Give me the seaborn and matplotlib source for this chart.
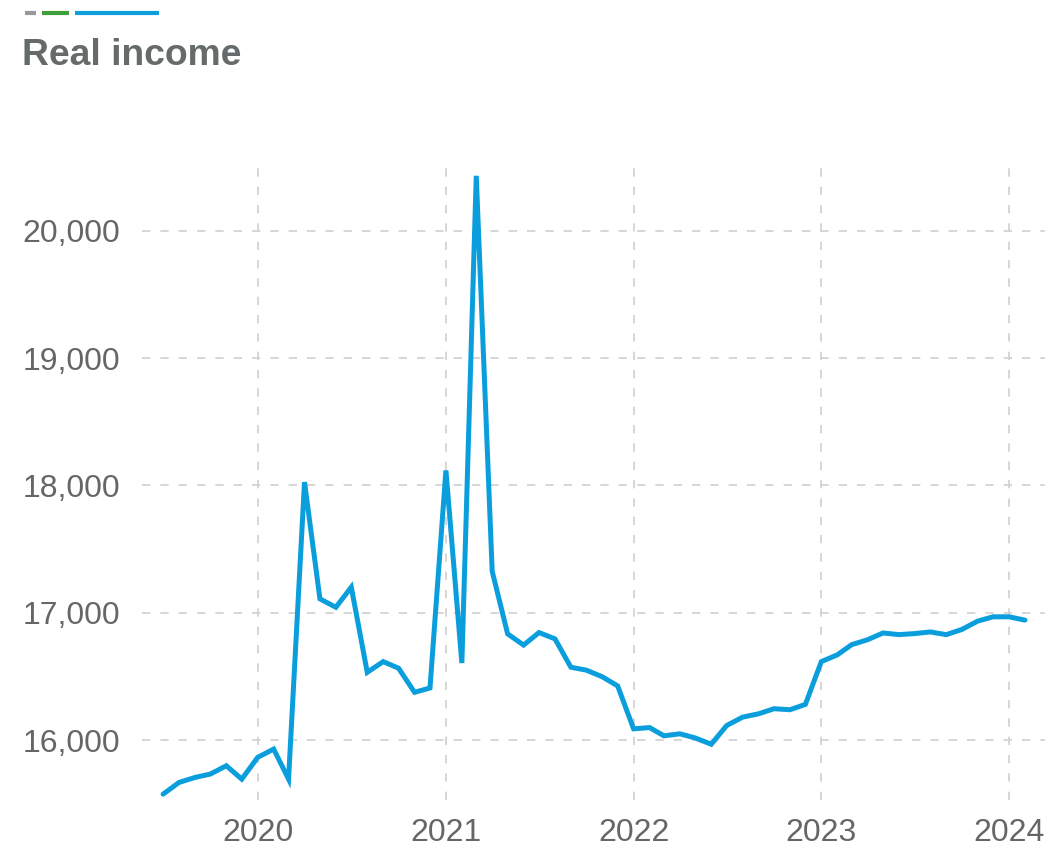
import matplotlib
matplotlib.use("Agg")
import matplotlib.pyplot as plt
import matplotlib.dates as mdates
from matplotlib.lines import Line2D
from matplotlib.ticker import FuncFormatter
import numpy as np
import pandas as pd
import seaborn as sns

# ---- data ----
start_month = "2019-07-01"
real_income = [
    15575, 15667, 15706, 15733, 15798, 15693,                                  # 2019 Jul-Dec
    15864, 15929, 15693, 18026, 17109, 17043, 17201, 16532, 16616, 16564, 16375, 16409,  # 2020
    18118, 16605, 20432, 17325, 16834, 16746, 16844, 16795, 16572, 16549, 16497, 16425,  # 2021
    16088, 16098, 16033, 16049, 16016, 15967, 16114, 16180, 16206, 16246, 16238, 16280,  # 2022
    16616, 16669, 16749, 16788, 16841, 16828, 16836, 16849, 16828, 16868, 16934, 16968,  # 2023
    16968, 16942,                                                              # 2024 Jan-Feb
]
dates = pd.date_range(start_month, periods=len(real_income), freq="MS")
year_ticks = ["2020", "2021", "2022", "2023", "2024"]
y_ticks = [16000, 17000, 18000, 19000, 20000]
title = "Real income"

df = pd.DataFrame({"date": dates, "value": real_income})

sns.set_theme(style="white")
plt.rcParams["font.family"] = ["Liberation Sans", "DejaVu Sans"]

fig = plt.figure(figsize=(10.51, 8.48), dpi=100)
ax = fig.add_axes([142 / 1051, 1 - 800 / 848, (1045 - 142) / 1051, (800 - 165) / 848])

sns.lineplot(data=df, x="date", y="value", ax=ax, color="#0a9fdc", linewidth=3.6,
             solid_joinstyle="miter", solid_capstyle="round")

ax.set_xlim(pd.Timestamp("2019-05-21"), pd.Timestamp("2024-03-11"))
ax.set_ylim(15529, 20517)

ax.set_xticks([pd.Timestamp(f"{y}-01-01") for y in year_ticks])
ax.set_xticklabels(year_ticks)
ax.set_yticks(y_ticks)
ax.yaxis.set_major_formatter(FuncFormatter(lambda v, p: f"{int(v):,}"))

ax.set_xlabel("")
ax.set_ylabel("")
for s in ax.spines.values():
    s.set_visible(False)
ax.grid(True, color="#d0d0d0", linestyle=(0, (5, 6)), linewidth=1.2)
ax.tick_params(axis="both", length=0, labelsize=23, labelcolor="#666666")
ax.tick_params(axis="x", pad=13)
ax.tick_params(axis="y", pad=16)

fig.text(22 / 1051, 1 - 65 / 848, title, fontsize=26.8, fontweight="bold",
         color="#656a6a", va="baseline", ha="left")

# small legend key lines at the top
y_leg = 1 - 13 / 848
for (x0, x1, c) in [(25, 36, "#999999"), (42, 69, "#3f9f3a"), (75, 159, "#0a9fdc")]:
    fig.add_artist(Line2D([x0 / 1051, x1 / 1051], [y_leg, y_leg], color=c,
                          linewidth=3, solid_capstyle="butt", transform=fig.transFigure))

fig.savefig("out.png", dpi=100)
